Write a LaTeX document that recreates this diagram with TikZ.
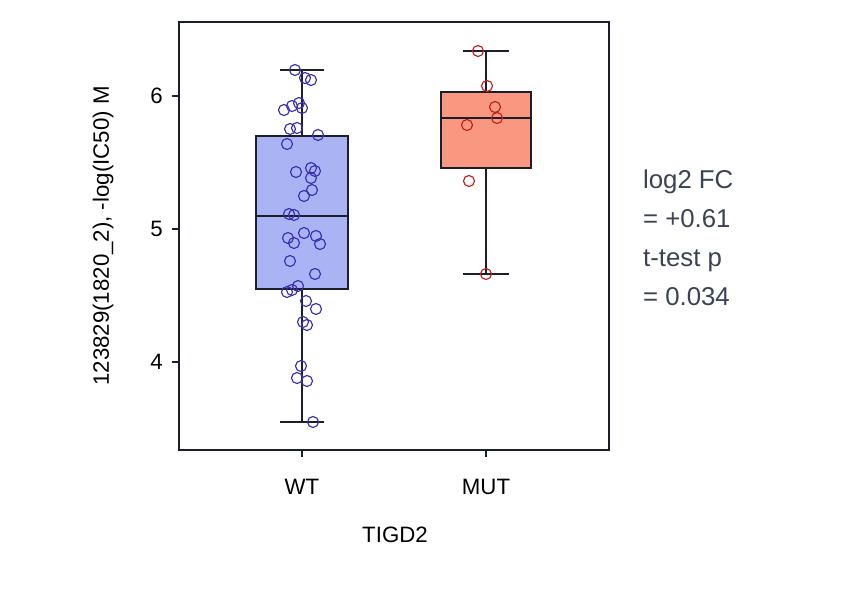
\documentclass[tikz,border=0pt]{standalone}
\usepackage{fontspec}
\setmainfont{Liberation Sans}
\usepackage{xcolor}
\definecolor{wtfill}{HTML}{AAB4F4}
\definecolor{mutfill}{HTML}{FA9780}
\definecolor{wtpt}{HTML}{3A2FB0}
\definecolor{mutpt}{HTML}{C0201A}
\definecolor{axisc}{HTML}{1A1F2B}
\definecolor{statc}{HTML}{3B4252}
\tikzset{
  box/.style={draw=axisc, line width=0.6mm},
  whisk/.style={draw=axisc, line width=0.6mm},
  tick/.style={draw=axisc, line width=0.4mm},
  lbl/.style={font=\fontsize{19}{22}\selectfont, text=black},
  stat/.style={font=\fontsize{22}{26}\selectfont, text=statc, anchor=base west},
}
\begin{document}
\begin{tikzpicture}[x=0.3mm, y=-0.3mm]
                \useasboundingbox (0,0) rectangle (868,590);

                % frame
                \draw[tick] (179,22) rectangle (609,450);

                % y ticks
                \foreach \v/\py in {6/96, 5/229, 4/362} {
                  \draw[tick] (172,\py) -- (179,\py);
                  \node[lbl, anchor=east] (y\v) at (167,\py) {\v};
                }
                % x ticks
                \draw[tick] (302,450) -- (302,457);
                \draw[tick] (486,450) -- (486,457);
                \node[lbl] (xwt) at (302,487) {WT};
                \node[lbl] (xmut) at (486,487) {MUT};
                \node[lbl] (xname) at (395,535) {TIGD2};
                \node[lbl, rotate=90] (yname) at (103,236) {123829(1820\_2), -log(IC50) M};

                % WT box
                \draw[whisk] (302,70) -- (302,422);
                \draw[whisk] (280,70) -- (324,70);
                \draw[whisk] (280,422) -- (324,422);
                \filldraw[box, fill=wtfill] (256,136) rectangle (348,289);
                \draw[box] (256,216) -- (348,216);

                % MUT box
                \draw[whisk] (486,51) -- (486,274);
                \draw[whisk] (463,51) -- (509,51);
                \draw[whisk] (463,274) -- (509,274);
                \filldraw[box, fill=mutfill] (441,92) rectangle (531,168);
                \draw[box] (441,118) -- (531,118);

                % points
                \foreach \px/\py in {295/70,305/78,311/80,284/110,292/106,299/103,302/108,
                    290/129,297/128,318/135,287/144,296/172,311/168,315/171,311/178,312/190,
                    304/196,289/214,294/215,304/233,288/238,316/236,294/243,320/244,290/261,
                    315/274,298/286,287/292,292/290,306/301,316/309,303/322,307/325,301/366,
                    297/378,307/381,313/422}
                  \draw[wtpt, line width=0.35mm] (\px,\py) circle (5.5);
                \foreach \px/\py in {478/51,487/86,495/107,497/118,467/125,469/181,486/274}
                  \draw[mutpt, line width=0.35mm] (\px,\py) circle (5.5);

                % stats
                \node[stat] (s1) at (639,188) {log2 FC};
                \node[stat] (s2) at (639,227) {= +0.61};
                \node[stat] (s3) at (639,266) {t-test p};
                \node[stat] (s4) at (639,305) {= 0.034};
            \end{tikzpicture}
\end{document}
